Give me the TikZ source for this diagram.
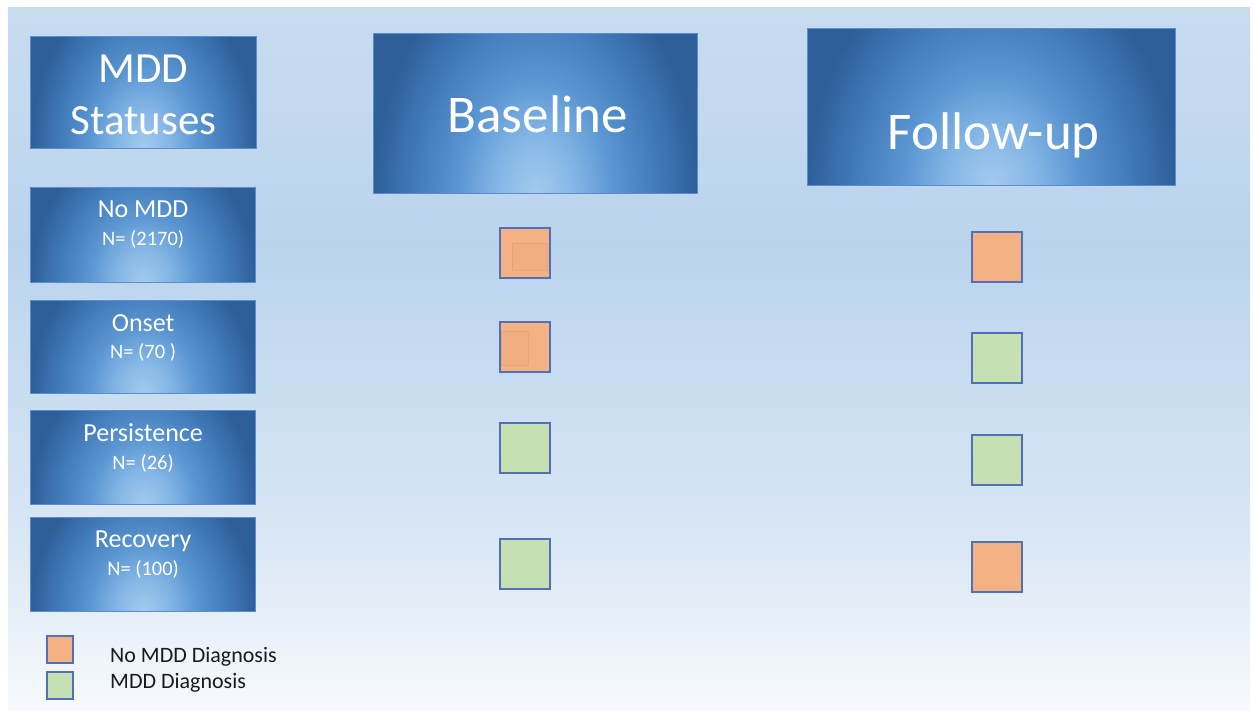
\documentclass[tikz,border=0pt]{standalone}
\usepackage{fontspec}
\setmainfont{Carlito}
\usetikzlibrary{calc}

% palette
\definecolor{bgtop}{HTML}{C8DCF0}
\definecolor{bgmid}{HTML}{BAD4ED}
\definecolor{bglow}{HTML}{DAE7F5}
\definecolor{bgbot}{HTML}{F7FAFD}
\definecolor{glow0}{HTML}{A4CBEE}
\definecolor{glow1}{HTML}{84B6E6}
\definecolor{glow2}{HTML}{5A96D2}
\definecolor{glow3}{HTML}{4079B8}
\definecolor{glow4}{HTML}{2E5F98}
\definecolor{boxline}{HTML}{5B8BD0}
\definecolor{noDx}{HTML}{F4B183}
\definecolor{yesDx}{HTML}{C6E0B4}
\definecolor{sqline}{HTML}{5270B8}
\definecolor{legtext}{HTML}{1A1A1A}

% glow rising from the bottom centre of each header box
\pgfdeclareradialshading{boxglow}{\pgfpointorigin}{%
  color(0bp)=(glow0); color(6bp)=(glow1); color(12bp)=(glow2);
  color(19bp)=(glow3); color(25bp)=(glow4); color(50bp)=(glow4)}

% panel background, pale blue at the top fading to white at the bottom
\pgfdeclareverticalshading{panelshade}{100bp}{%
  color(0bp)=(bgbot); color(25bp)=(bgbot); color(37bp)=(bglow);
  color(58bp)=(bgmid); color(75bp)=(bgtop); color(100bp)=(bgtop)}

\tikzset{
  hbox/.style={rectangle, inner sep=0pt, draw=boxline, line width=1.2pt,
    anchor=north west,
    path picture={\shade[shading=boxglow]
      ($(path picture bounding box.south west)!-1.5!(path picture bounding box.north west)$)
      rectangle
      ($(path picture bounding box.south east)!1.5!(path picture bounding box.north east)$);}},
  bigtext/.style={text=white, anchor=base, inner sep=0pt, font=\fontsize{53}{60}\selectfont},
  midtext/.style={text=white, anchor=base, inner sep=0pt, font=\fontsize{43}{50}\selectfont},
  nametext/.style={text=white, anchor=base, inner sep=0pt, font=\fontsize{26}{30}\selectfont},
  ntext/.style={text=white, anchor=base, inner sep=0pt, font=\fontsize{20.5}{24}\selectfont},
  legtxt/.style={text=legtext, anchor=base west, inner sep=0pt, font=\fontsize{22}{26}\selectfont},
  dx/.style={rectangle, inner sep=0pt, minimum width=50pt, minimum height=50pt,
    draw=sqline, line width=2pt},
  nodx/.style={dx, fill=noDx},
  mdddx/.style={dx, fill=yesDx},
  ghost/.style={draw=noDx!80!red!70!black, draw opacity=0.15, line width=0.8pt,
    fill=noDx!92!black, fill opacity=0.12},
}

\begin{document}
\begin{tikzpicture}[x=1pt, y=-1pt]
  \useasboundingbox (0,0) rectangle (1253,711);
  \fill[white] (0,0) rectangle (1253,711);
  \shade[shading=panelshade] (8,8) rectangle (1250,711);

  % status column
  \node[hbox, minimum width=226pt, minimum height=112pt] (stat) at (30,36) {};
  \node[hbox, minimum width=225pt, minimum height=95pt] (nomdd) at (30,187) {};
  \node[hbox, minimum width=225pt, minimum height=93pt] (onset) at (30,300) {};
  \node[hbox, minimum width=225pt, minimum height=94pt] (persist) at (30,410) {};
  \node[hbox, minimum width=225pt, minimum height=94pt] (recov) at (30,517) {};

  % time-point headers
  \node[hbox, minimum width=324pt, minimum height=160pt] (base) at (373,33) {};
  \node[hbox, minimum width=368pt, minimum height=157pt] (follow) at (807,28) {};

  % header labels
  \node[midtext] (tmdd) at ($(stat.north)+(0,47)$) {MDD};
  \node[midtext] (tstat) at ($(stat.north)+(0,99)$) {Statuses};
  \node[bigtext] (tbase) at ($(base.north)+(2,100)$) {Baseline};
  \node[bigtext] (tfollow) at ($(follow.north)+(2,122)$) {Follow-up};

  \node[nametext] (lnomdd) at ($(nomdd.north)+(0,31)$) {No MDD};
  \node[ntext] (nnomdd) at ($(nomdd.north)+(0,59)$) {N= (2170)};
  \node[nametext] (lonset) at ($(onset.north)+(0,31)$) {Onset};
  \node[ntext] (nonset) at ($(onset.north)+(0,58)$) {N= (70 )};
  \node[nametext] (lpersist) at ($(persist.north)+(0,31)$) {Persistence};
  \node[ntext] (npersist) at ($(persist.north)+(0,59)$) {N= (26)};
  \node[nametext] (lrecov) at ($(recov.north)+(0,30)$) {Recovery};
  \node[ntext] (nrecov) at ($(recov.north)+(0,58)$) {N= (100)};

  % baseline diagnoses
  \node[nodx] (b1) at (525,253.5) {};
  \node[nodx] (b2) at (525,347) {};
  \node[mdddx] (b3) at (525,448) {};
  \node[mdddx] (b4) at (525,563.5) {};
  \filldraw[ghost] (512,243) rectangle (547,270);
  \filldraw[ghost] (501,331) rectangle (528,365);

  % follow-up diagnoses
  \node[nodx] (f1) at (996.5,257) {};
  \node[mdddx] (f2) at (996.5,358) {};
  \node[mdddx] (f3) at (996.5,460) {};
  \node[nodx] (f4) at (996.5,566.5) {};

  % legend
  \node[nodx, minimum width=26pt, minimum height=27pt] (kno) at (60,649.5) {};
  \node[mdddx, minimum width=26pt, minimum height=27pt] (kyes) at (60,685.5) {};
  \node[legtxt] (lno) at (110,662) {No MDD Diagnosis};
  \node[legtxt] (lyes) at (110,688) {MDD Diagnosis};
\end{tikzpicture}
\end{document}
